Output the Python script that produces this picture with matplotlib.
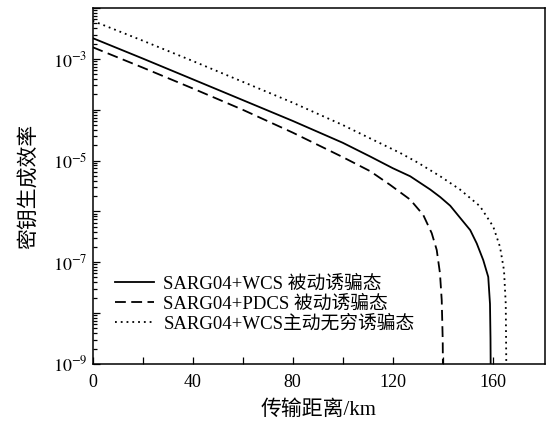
import matplotlib
matplotlib.use("Agg")
import matplotlib.pyplot as plt
from matplotlib.ticker import FixedLocator, LogLocator, NullFormatter

plt.rcParams['font.family'] = ['Liberation Serif', 'Noto Sans CJK SC']
plt.rcParams['mathtext.fontset'] = 'stix'

# transmission distance (km) and key rate
wcs_km = [0, 20, 40, 60, 80, 100, 111, 120, 127, 135, 139, 143, 147, 151, 153.6,
          156.2, 158.2, 158.9, 159.1, 159.3]
wcs_rate = [2.57e-3, 1.02e-3, 3.98e-4, 1.55e-4, 6.03e-5, 2.24e-5, 1.20e-5,
            7.08e-6, 4.90e-6, 2.69e-6, 1.91e-6, 1.29e-6, 7.41e-7, 4.27e-7,
            2.34e-7, 1.10e-7, 5.13e-8, 1.51e-8, 3.16e-9, 1e-10]

pdcs_km = [0, 20, 40, 60, 80, 100, 111, 119, 127, 132.2, 135.6, 137.6, 138.9,
           139.6, 140.0, 140.2]
pdcs_rate = [1.70e-3, 6.76e-4, 2.63e-4, 1.00e-4, 3.55e-5, 1.17e-5, 6.17e-6,
             3.31e-6, 1.70e-6, 8.51e-7, 3.72e-7, 1.74e-7, 6.03e-8, 1.78e-8,
             2.88e-9, 1e-10]

active_km = [0, 20, 40, 60, 80, 100, 110, 123, 130, 139, 146.9, 154.9, 160.2,
             162.9, 164.5, 165.2, 165.6]
active_rate = [5.62e-3, 2.29e-3, 9.12e-4, 3.55e-4, 1.38e-4, 5.01e-5, 2.88e-5,
               1.41e-5, 9.12e-6, 4.90e-6, 2.69e-6, 1.26e-6, 5.01e-7, 2.00e-7,
               6.92e-8, 1.51e-8, 1e-10]

labels = ['SARG04+WCS 被动诱骗态',
          'SARG04+PDCS 被动诱骗态',
          'SARG04+WCS主动无穷诱骗态']

x_ticks = [0, 20, 40, 60, 80, 100, 120, 140, 160]
x_ticklabels = ['0', '', '40', '', '80', '', '120', '', '160']
y_major = [1e-9, 1e-8, 1e-7, 1e-6, 1e-5, 1e-4, 1e-3, 1e-2]
y_ticklabels = ['$10^{-9}$', '', '$10^{-7}$', '', '$10^{-5}$', '', '$10^{-3}$', '']

fig = plt.figure(figsize=(5.48, 4.26), dpi=100)
ax = fig.add_axes([0.169, 0.146, 0.826, 0.835])

ax.plot(wcs_km, wcs_rate, color='k', lw=1.3, ls='-', label=labels[0])
ax.plot(pdcs_km, pdcs_rate, color='k', lw=1.3, ls=(0, (6, 3)), label=labels[1])
ax.plot(active_km, active_rate, color='k', lw=1.3, ls=(0, (1, 2.2)), label=labels[2])

ax.set_yscale('log')
ax.set_xlim(0, 181)
ax.set_ylim(1e-9, 1e-2)

ax.xaxis.set_major_locator(FixedLocator(x_ticks))
ax.set_xticklabels(x_ticklabels)
ax.yaxis.set_major_locator(FixedLocator(y_major))
ax.set_yticklabels(y_ticklabels)
ax.yaxis.set_minor_locator(LogLocator(base=10, subs=range(2, 10), numticks=20))
ax.yaxis.set_minor_formatter(NullFormatter())

ax.tick_params(which='both', direction='in', top=False, right=False,
               labelsize=13, width=0.9)
ax.tick_params(which='major', length=5)
ax.tick_params(which='minor', length=3)
ax.tick_params(axis='x', pad=7)
for s in ax.spines.values():
    s.set_linewidth(1.1)

ax.set_xlabel('传输距离/km', fontsize=15, labelpad=7)
ax.set_ylabel('密钥生成效率', fontsize=15, labelpad=10)

ax.legend(loc='lower left', bbox_to_anchor=(0.032, 0.067), frameon=False,
          fontsize=13.5, handlelength=2.1, handletextpad=0.5, labelspacing=0.12,
          borderaxespad=0)

fig.savefig('out.png', dpi=100)
